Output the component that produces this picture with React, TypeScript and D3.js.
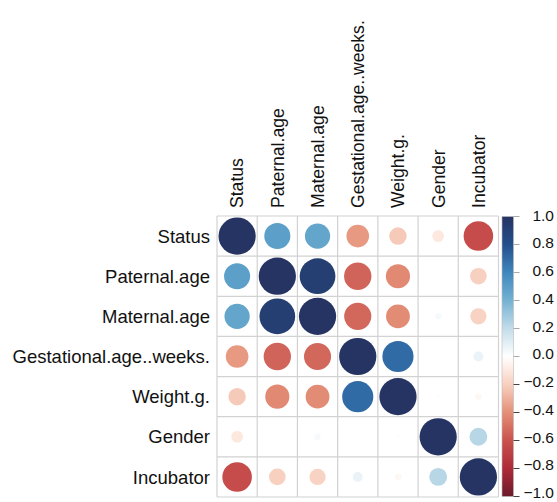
import React from "react";
import * as d3 from "d3";

const categories = [
  "Status",
  "Paternal.age",
  "Maternal.age",
  "Gestational.age..weeks.",
  "Weight.g.",
  "Gender",
  "Incubator",
];

const statusRow = [1, 0.49, 0.46, -0.37, -0.22, -0.1, -0.63];
const paternalRow = [0.49, 1, 0.92, -0.54, -0.42, 0.0, -0.2];
const maternalRow = [0.46, 0.92, 1, -0.53, -0.41, 0.03, -0.19];
const gestationalRow = [-0.37, -0.54, -0.53, 1, 0.7, 0.0, 0.07];
const weightRow = [-0.22, -0.42, -0.41, 0.7, 1, 0.01, -0.03];
const genderRow = [-0.1, 0.0, 0.03, 0.0, 0.01, 1, 0.23];
const incubatorRow = [-0.63, -0.2, -0.19, 0.07, -0.03, 0.23, 1];

const rows = [statusRow, paternalRow, maternalRow, gestationalRow, weightRow, genderRow, incubatorRow];

const legendTicks = [1.0, 0.8, 0.6, 0.4, 0.2, 0.0, -0.2, -0.4, -0.6, -0.8, -1.0];

const paletteDomain = [-1, -0.8, -0.6, -0.4, -0.2, 0, 0.2, 0.4, 0.6, 0.8, 1];
const paletteColors = [
  "#6b1b2b",
  "#ae2a38",
  "#c9524d",
  "#e48f77",
  "#f8d0bf",
  "#ffffff",
  "#c3dcea",
  "#74b2d2",
  "#3f87bd",
  "#234f8c",
  "#263463",
];

const W = 557;
const H = 502;
const FONT = "'Liberation Sans', Arial, Helvetica, sans-serif";

export default function App() {
  const gx0 = 217;
  const gx1 = 498.5;
  const gy0 = 216;
  const gy1 = 497;
  const x = d3.scaleBand<string>().domain(categories).range([gx0, gx1]).padding(0);
  const y = d3.scaleBand<string>().domain(categories).range([gy0, gy1]).padding(0);
  const color = d3.scaleLinear<string>().domain(paletteDomain).range(paletteColors).interpolate(d3.interpolateRgb);
  const bw = x.bandwidth();
  const rScale = d3.scaleSqrt().domain([0, 1]).range([0, bw * 0.463]);

  const barX = 502;
  const barW = 11.5;
  const barTop = 216.5;
  const barBot = 496.5;
  const ly = d3.scaleLinear().domain([1, -1]).range([barTop, barBot]);
  const labelY = d3.scaleLinear().domain([1, -1]).range([215, 492.5]);

  const gradStops = d3.range(0, 101).map((i) => {
    const v = 1 - (i / 100) * 2;
    return { offset: i, c: color(v) };
  });

  const gridLines: number[] = [];
  for (let i = 0; i <= categories.length; i++) gridLines.push(i);

  return (
    <svg
      width={W}
      height={H}
      style={{ position: "absolute", left: 0, top: 0, background: "#fff" }}
      fontFamily={FONT}
    >
      <defs>
        <linearGradient id="cbar" x1="0" y1="0" x2="0" y2="1">
          {gradStops.map((s) => (
            <stop key={s.offset} offset={`${s.offset}%`} stopColor={s.c} />
          ))}
        </linearGradient>
      </defs>
      <rect x={0} y={0} width={W} height={H} fill="#fff" />
      {gridLines.map((i) => {
        const xp = gx0 + i * bw;
        const yp = gy0 + i * y.bandwidth();
        return (
          <g key={i}>
            <line x1={xp} x2={xp} y1={gy0} y2={gy1} stroke="#d2d2d2" strokeWidth={1.2} />
            <line x1={gx0} x2={gx1} y1={yp} y2={yp} stroke="#d2d2d2" strokeWidth={1.2} />
          </g>
        );
      })}
      {rows.map((row, ri) =>
        row.map((v, ci) => {
          const r = rScale(Math.abs(v));
          if (r <= 0) return null;
          return (
            <circle
              key={`${ri}-${ci}`}
              cx={(x(categories[ci]) as number) + bw / 2}
              cy={(y(categories[ri]) as number) + y.bandwidth() / 2}
              r={r}
              fill={color(v)}
            />
          );
        })
      )}
      {categories.map((c) => (
        <text
          key={`r-${c}`}
          x={210}
          y={(y(c) as number) + y.bandwidth() / 2}
          dy="0.36em"
          textAnchor="end"
          fontSize={18.5}
          fill="#111"
        >
          {c}
        </text>
      ))}
      {categories.map((c) => {
        const cx = (x(c) as number) + bw / 2;
        return (
          <text
            key={`c-${c}`}
            transform={`translate(${cx},208) rotate(-90)`}
            dy="0.36em"
            textAnchor="start"
            fontSize={17.6}
            fill="#111"
          >
            {c}
          </text>
        );
      })}
      <rect x={barX} y={barTop} width={barW} height={barBot - barTop} fill="url(#cbar)" stroke="#bbb" strokeWidth={0.6} />
      {legendTicks.map((t) => (
        <g key={`t-${t}`}>
          <line
            x1={barX + barW}
            x2={barX + barW + 6}
            y1={ly(t)}
            y2={ly(t)}
            stroke={t < 0 ? "#444" : "#aaa"}
            strokeWidth={1}
          />
          <text x={554} y={labelY(t)} dy="0.36em" textAnchor="end" fontSize={15.5} fill="#111">
            {d3.format(".1f")(t).replace("-", "\u2212")}
          </text>
        </g>
      ))}
    </svg>
  );
}
